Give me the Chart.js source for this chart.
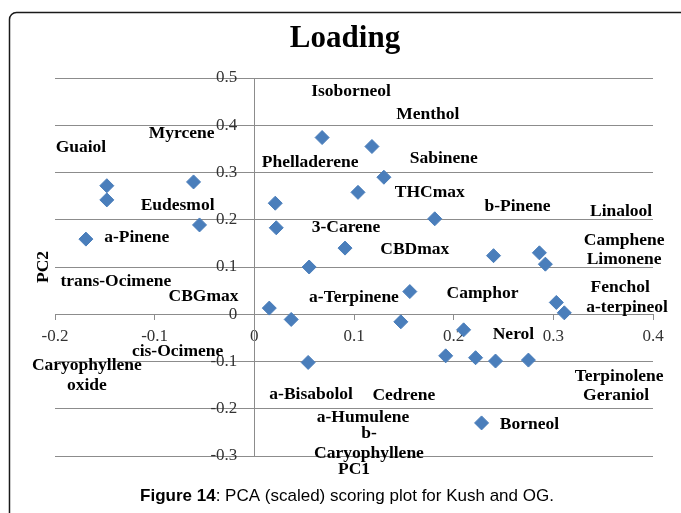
<!DOCTYPE html>
<html>
<head>
<meta charset="utf-8">
<script src="https://cdn.jsdelivr.net/npm/chart.js@4.4.0/dist/chart.umd.min.js"></script>
<style>
  html, body { margin: 0; padding: 0; background: #fff; }
  #wrap { width: 681px; height: 513px; }
</style>
</head>
<body>
<div id="wrap"><canvas id="pcaChart" width="681" height="513"></canvas></div>
<script>
// scores
const pc1 = [-0.148, -0.148, -0.061, -0.055, -0.169, 0.021, 0.022, 0.055, 0.068, 0.118,
             0.130, 0.104, 0.181, 0.091, 0.240, 0.286, 0.292, 0.156, 0.303, 0.311,
             0.147, 0.210, 0.192, 0.222, 0.242, 0.275, 0.228, 0.015, 0.037, 0.054];
const pc2 = [0.272, 0.242, 0.280, 0.189, 0.159, 0.235, 0.183, 0.100, 0.374, 0.355,
             0.290, 0.258, 0.202, 0.140, 0.124, 0.130, 0.106, 0.048, 0.025, 0.003,
             -0.016, -0.033, -0.088, -0.092, -0.099, -0.097, -0.230, 0.013, -0.011, -0.102];

// loading names and where they sit (in PC1/PC2 units)
const labelNames = ['Guaiol', 'Myrcene', 'Isoborneol', 'Menthol', 'Phelladerene', 'Sabinene',
  'THCmax', 'b-Pinene', 'Linalool', 'Eudesmol', 'a-Pinene', '3-Carene', 'CBDmax', 'Camphene',
  'Limonene', 'trans-Ocimene', 'CBGmax', 'a-Terpinene', 'Camphor', 'Fenchol', 'a-terpineol',
  'Nerol', 'cis-Ocimene', 'Caryophyllene\noxide', 'a-Bisabolol', 'Cedrene', 'Terpinolene',
  'Geraniol', 'a-Humulene', 'b-\nCaryophyllene', 'Borneol'];
const labelPc1 = [-0.174, -0.073, 0.097, 0.174, 0.056, 0.190, 0.176, 0.264, 0.368, -0.077,
  -0.118, 0.092, 0.161, 0.371, 0.371, -0.139, -0.051, 0.100, 0.229, 0.367, 0.374,
  0.260, -0.077, -0.168, 0.057, 0.150, 0.366, 0.363, 0.109, 0.115, 0.276];
const labelPc2 = [0.352, 0.382, 0.472, 0.422, 0.321, 0.329, 0.258, 0.228, 0.217, 0.230,
  0.162, 0.183, 0.138, 0.157, 0.115, 0.069, 0.037, 0.035, 0.045, 0.057, 0.014,
  -0.042, -0.078, -0.129, -0.170, -0.172, -0.132, -0.172, -0.219, -0.274, -0.233];

const xTickLabels = ['-0.2', '-0.1', '0', '0.1', '0.2', '0.3', '0.4'];
const yTickLabels = ['-0.3', '-0.2', '-0.1', '0', '0.1', '0.2', '0.3', '0.4', '0.5'];

const serif = '"Liberation Serif", "Times New Roman", serif';
const sans = '"Liberation Sans", Arial, sans-serif';

const decorPlugin = {
  id: 'decor',
  beforeDraw(chart) {
    const ctx = chart.ctx;
    ctx.save();
    ctx.fillStyle = '#fff';
    ctx.fillRect(0, 0, chart.width, chart.height);
    // frame round the figure, it runs off the right and bottom edges
    ctx.strokeStyle = '#1a1a1a';
    ctx.lineWidth = 1.5;
    ctx.beginPath();
    ctx.roundRect(9.5, 12.5, 720, 540, 7);
    ctx.stroke();
    ctx.restore();
  },
  afterDatasetsDraw(chart) {
    const ctx = chart.ctx;
    const xs = chart.scales.x, ys = chart.scales.y;
    ctx.save();
    ctx.fillStyle = '#000';
    ctx.font = 'bold 17.5px ' + serif;
    ctx.textAlign = 'center';
    ctx.textBaseline = 'middle';
    labelNames.forEach((name, i) => {
      const lines = name.split('\n');
      const cx = xs.getPixelForValue(labelPc1[i]);
      const cy = ys.getPixelForValue(labelPc2[i]);
      const lh = 20;
      lines.forEach((ln, j) => {
        ctx.fillText(ln, cx, cy + (j - (lines.length - 1) / 2) * lh);
      });
    });
    ctx.restore();
  },
  afterDraw(chart) {
    const ctx = chart.ctx;
    const area = chart.chartArea;
    ctx.save();
    ctx.fillStyle = '#000';
    ctx.textAlign = 'center';

    // title
    ctx.font = 'bold 31px ' + serif;
    ctx.textBaseline = 'alphabetic';
    ctx.fillText('Loading', 345, 47);

    // axis titles
    ctx.font = 'bold 17.5px ' + serif;
    ctx.textBaseline = 'middle';
    ctx.fillText('PC1', (area.left + area.right) / 2, area.bottom + 13);
    ctx.save();
    ctx.translate(area.left - 12, (area.top + area.bottom) / 2);
    ctx.rotate(-Math.PI / 2);
    ctx.fillText('PC2', 0, 0);
    ctx.restore();

    // caption
    const boldPart = 'Figure 14';
    const restPart = ': PCA (scaled) scoring plot for Kush and OG.';
    ctx.textBaseline = 'alphabetic';
    ctx.textAlign = 'left';
    ctx.font = 'bold 17px ' + sans;
    const w1 = ctx.measureText(boldPart).width;
    ctx.font = '17px ' + sans;
    const w2 = ctx.measureText(restPart).width;
    const x0 = 347 - (w1 + w2) / 2;
    ctx.font = 'bold 17px ' + sans;
    ctx.fillText(boldPart, x0, 501);
    ctx.font = '17px ' + sans;
    ctx.fillText(restPart, x0 + w1, 501);
    ctx.restore();
  }
};

const points = pc1.map((v, i) => ({ x: v, y: pc2[i] }));

new Chart(document.getElementById('pcaChart'), {
  type: 'scatter',
  data: {
    datasets: [{
      label: 'Loading',
      data: points,
      pointStyle: 'rectRot',
      pointRadius: 7,
      pointHoverRadius: 7,
      backgroundColor: '#4a7ebb',
      borderColor: '#4a7ebb',
      borderWidth: 1
    }]
  },
  options: {
    responsive: false,
    animation: false,
    layout: { padding: { left: 55, right: 28, top: 78, bottom: 57 } },
    plugins: {
      legend: { display: false },
      title: { display: false },
      tooltip: { enabled: false }
    },
    scales: {
      x: {
        type: 'linear',
        position: { y: 0 },
        min: -0.2,
        max: 0.4,
        ticks: {
          stepSize: 0.1,
          padding: 7,
          color: '#333',
          font: { family: serif, size: 17 },
          callback: (v, i) => xTickLabels[i]
        },
        grid: { drawOnChartArea: false, drawTicks: true, tickLength: 5, color: '#8c8c8c' },
        border: { display: true, color: '#8c8c8c', width: 1 }
      },
      y: {
        type: 'linear',
        position: { x: 0 },
        min: -0.3,
        max: 0.5,
        ticks: {
          stepSize: 0.1,
          color: '#333',
          font: { family: serif, size: 17 },
          // labels of an axis set at x=0 sit flush on it; pad them off with spaces
          callback: (v, i) => yTickLabels[i] + '    '
        },
        grid: { color: '#8c8c8c', lineWidth: 1, tickLength: 5 },
        border: { display: true, color: '#8c8c8c', width: 1 }
      }
    }
  },
  plugins: [decorPlugin]
});
</script>
</body>
</html>
